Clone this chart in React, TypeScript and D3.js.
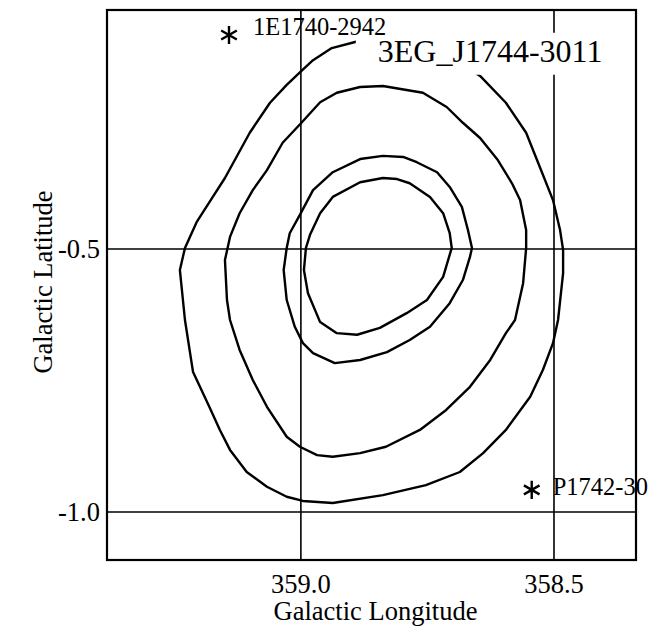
import React from "react";
import * as d3 from "d3";

// contour levels, [galactic longitude, galactic latitude]
const contourOuter: [number, number][] = [
  [358.804, -0.103], [358.706, -0.131], [358.646, -0.171], [358.595, -0.222],
  [358.555, -0.279], [358.528, -0.344], [358.502, -0.407], [358.488, -0.464],
  [358.482, -0.502], [358.482, -0.546], [358.492, -0.635], [358.502, -0.679],
  [358.522, -0.73], [358.547, -0.781], [358.595, -0.844], [358.64, -0.888],
  [358.686, -0.924], [358.753, -0.949], [358.838, -0.968], [358.937, -0.983],
  [358.996, -0.979], [359.028, -0.971], [359.067, -0.952], [359.107, -0.924],
  [359.14, -0.882], [359.16, -0.844], [359.18, -0.802], [359.213, -0.734],
  [359.229, -0.635], [359.239, -0.54], [359.229, -0.498], [359.206, -0.449],
  [359.174, -0.401], [359.15, -0.365], [359.101, -0.279], [359.061, -0.222],
  [359.028, -0.188], [359.002, -0.164], [358.976, -0.141], [358.939, -0.118],
  [358.891, -0.106],
];

const contourSecond: [number, number][] = [
  [358.838, -0.19], [358.759, -0.203], [358.712, -0.23], [358.68, -0.26],
  [358.646, -0.289], [358.611, -0.331], [358.583, -0.375], [358.567, -0.407],
  [358.555, -0.464], [358.555, -0.498], [358.561, -0.565], [358.577, -0.635],
  [358.595, -0.66], [358.626, -0.711], [358.666, -0.762], [358.713, -0.806],
  [358.765, -0.844], [358.832, -0.876], [358.883, -0.888], [358.937, -0.895],
  [358.968, -0.892], [359.002, -0.876], [359.028, -0.857], [359.067, -0.8],
  [359.095, -0.749], [359.121, -0.692], [359.14, -0.635], [359.146, -0.597],
  [359.15, -0.521], [359.14, -0.477], [359.121, -0.432], [359.095, -0.388],
  [359.067, -0.35], [359.036, -0.298], [358.998, -0.259], [358.962, -0.221],
  [358.929, -0.203], [358.883, -0.192],
];

const contourThird: [number, number][] = [
  [358.838, -0.323], [358.798, -0.325], [358.771, -0.335], [358.731, -0.354],
  [358.706, -0.382], [358.682, -0.42], [358.67, -0.464], [358.662, -0.498],
  [358.666, -0.515], [358.68, -0.559], [358.706, -0.603], [358.745, -0.648],
  [358.785, -0.673], [358.83, -0.696], [358.883, -0.711], [358.933, -0.717],
  [358.976, -0.698], [358.996, -0.679], [359.012, -0.648], [359.028, -0.597],
  [359.034, -0.54], [359.028, -0.498], [359.022, -0.47], [359.002, -0.435],
  [358.976, -0.388], [358.937, -0.354], [358.883, -0.329],
];

const contourInner: [number, number][] = [
  [358.838, -0.365], [358.81, -0.367], [358.785, -0.375], [358.745, -0.401],
  [358.719, -0.432], [358.706, -0.47], [358.702, -0.498], [358.719, -0.553],
  [358.751, -0.597], [358.791, -0.622], [358.844, -0.65], [358.889, -0.663],
  [358.929, -0.66], [358.962, -0.639], [358.986, -0.584], [358.994, -0.54],
  [358.99, -0.498], [358.982, -0.473], [358.962, -0.432], [358.937, -0.401],
  [358.883, -0.373],
];

const contours = [contourOuter, contourSecond, contourThird, contourInner];

// point sources
const sourceNames = ["1E1740-2942", "P1742-30"];
const sourceLon = [359.142, 358.544];
const sourceLat = [-0.093, -0.958];

// main source label
const mainLabel = "3EG_J1744-3011";
const mainLabelPos: [number, number] = [358.848, -0.144];

const xTicks = [359.0, 358.5];
const yTicks = [-0.5, -1.0];

const W = 666;
const H = 637;
const margin = { top: 10, right: 30, bottom: 77, left: 107 };
const FONT = "'Liberation Serif', 'Times New Roman', serif";

export default function App() {
  const x = d3
    .scaleLinear()
    .domain([359.383, 358.338])
    .range([margin.left, W - margin.right]);
  const y = d3
    .scaleLinear()
    .domain([-0.0456, -1.0913])
    .range([margin.top, H - margin.bottom]);

  const line = d3
    .line<[number, number]>()
    .x((d) => x(d[0]))
    .y((d) => y(d[1]))
    .curve(d3.curveLinearClosed);

  const starType = (d3 as any).symbolAsterisk;
  const star = starType ? d3.symbol(starType, 230)() : "M0,-8L0,8M-7,-4L7,4M-7,4L7,-4";

  const [x0, x1] = x.range();
  const [y0, y1] = y.range();
  const lx = x(mainLabelPos[0]);
  const ly = y(mainLabelPos[1]);

  return (
    <svg
      width={W}
      height={H}
      style={{ position: "absolute", left: 0, top: 0, background: "#fff" }}
      fontFamily={FONT}
    >
      {/* grid lines at the labelled ticks */}
      {xTicks.map((t) => (
        <line key={"gx" + t} x1={x(t)} x2={x(t)} y1={y0} y2={y1} stroke="#000" strokeWidth={1.6} />
      ))}
      {yTicks.map((t) => (
        <line key={"gy" + t} x1={x0} x2={x1} y1={y(t)} y2={y(t)} stroke="#000" strokeWidth={1.6} />
      ))}

      {contours.map((c, i) => (
        <path key={"c" + i} d={line(c) || ""} fill="none" stroke="#000" strokeWidth={2.4} strokeLinejoin="round" />
      ))}

      {/* label knocks out the lines behind it */}
      <rect x={lx - 22} y={ly - 29} width={240} height={42} fill="#fff" />
      <text x={lx} y={ly} fontSize={32} fill="#000">
        {mainLabel}
      </text>

      {sourceNames.map((name, i) => (
        <g key={name} transform={`translate(${x(sourceLon[i])},${y(sourceLat[i])})`}>
          <path d={star || ""} fill="none" stroke="#000" strokeWidth={2.4} />
          <text x={i === 0 ? 24 : 21} y={i === 0 ? 0 : 5} fontSize={24.5} fill="#000">
            {name}
          </text>
        </g>
      ))}

      {/* frame */}
      <rect x={x0} y={y0} width={x1 - x0} height={y1 - y0} fill="none" stroke="#000" strokeWidth={2.2} />

      {xTicks.map((t) => (
        <text key={"tx" + t} x={x(t)} y={593} textAnchor="middle" fontSize={26.5} fill="#000">
          {t.toFixed(1)}
        </text>
      ))}
      {yTicks.map((t) => (
        <text key={"ty" + t} x={x0 - 7} y={y(t)} dy="0.35em" textAnchor="end" fontSize={26.5} fill="#000">
          {t.toFixed(1)}
        </text>
      ))}

      <text x={(x0 + x1) / 2 + 4} y={620} textAnchor="middle" fontSize={26.5} fill="#000">
        Galactic Longitude
      </text>
      <text
        transform={`translate(52,${(y0 + y1) / 2 - 3}) rotate(-90)`}
        textAnchor="middle"
        fontSize={26.5}
        fill="#000"
      >
        Galactic Latitude
      </text>
    </svg>
  );
}
